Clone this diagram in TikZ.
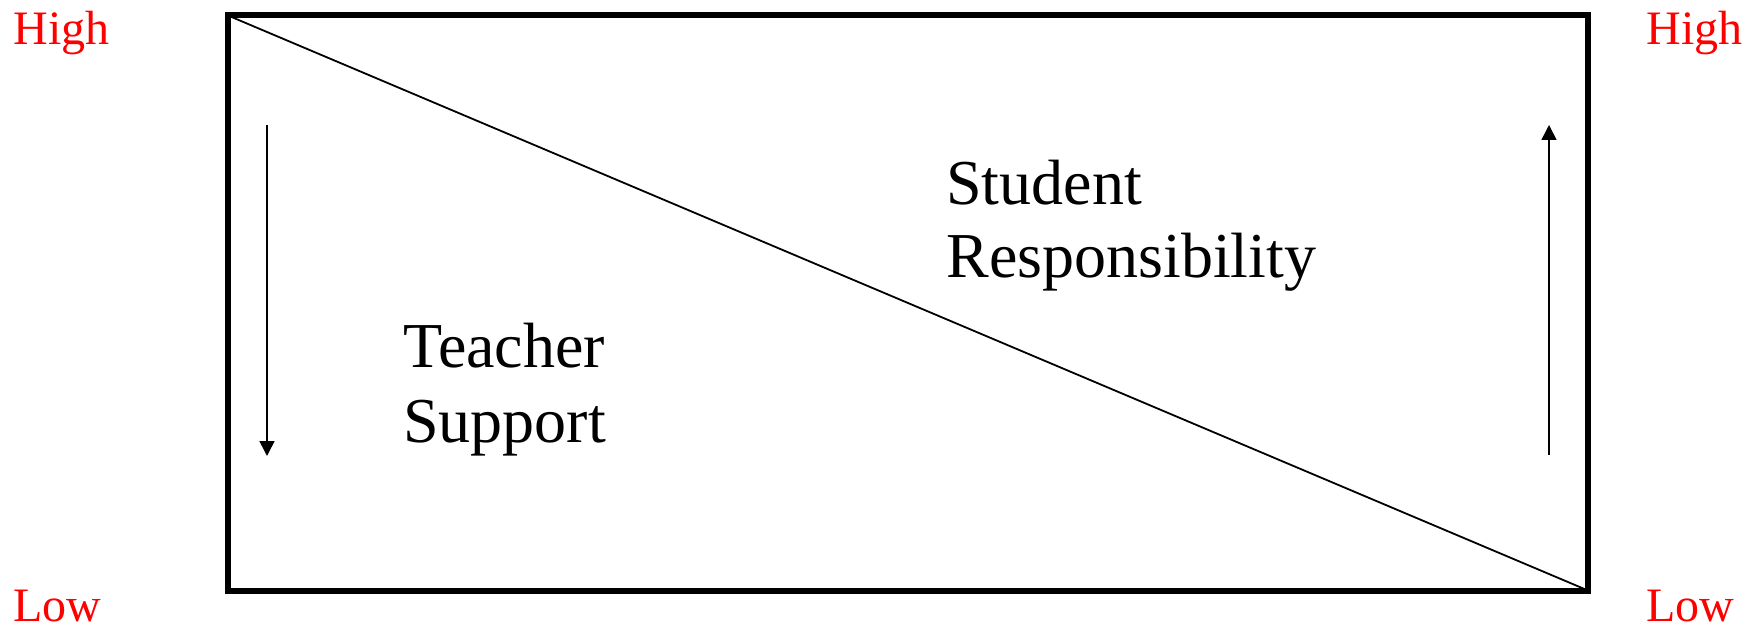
\documentclass[tikz,border=0pt]{standalone}
\usepackage{fontspec}
\setmainfont{Liberation Serif}
\usetikzlibrary{arrows.meta}
\definecolor{lblred}{RGB}{255,0,0}
\tikzset{
  lvl/.style={text=lblred, font=\fontsize{24}{28}\selectfont, inner sep=0pt, anchor=base west},
  big/.style={font=\fontsize{32}{37}\selectfont, inner sep=0pt, anchor=base west},
  frame/.style={line width=3pt, line join=miter},
  diag/.style={line width=0.9pt},
  arr/.style={line width=0.8pt, -{Triangle[width=7.5pt,length=7.5pt]}}
}
\begin{document}
\begin{tikzpicture}[x=0.5pt,y=-0.5pt]
\useasboundingbox (0,0) rectangle (1752,626);
\coordinate (tl) at (228,15.5);
\coordinate (br) at (1588,590.5);
\draw[frame] (tl) rectangle (br);
\draw[diag] (tl) -- (br);
\coordinate (la1) at (267,125);
\coordinate (la2) at (267,456);
\coordinate (ra1) at (1549,455);
\coordinate (ra2) at (1549,125);
\draw[arr] (la1) -- (la2);
\draw[arr] (ra1) -- (ra2);
\node[lvl] (hl) at (13,45) {High};
\node[lvl] (hr) at (1646,45) {High};
\node[lvl] (ll) at (13,621) {Low};
\node[lvl] (lr) at (1646,621) {Low};
\node[big] (s1) at (946,205) {Student};
\node[big] (s2) at (946,278) {Responsibility};
\node[big] (t1) at (403,367) {Teacher};
\node[big] (t2) at (403,442) {Support};
\end{tikzpicture}
\end{document}
